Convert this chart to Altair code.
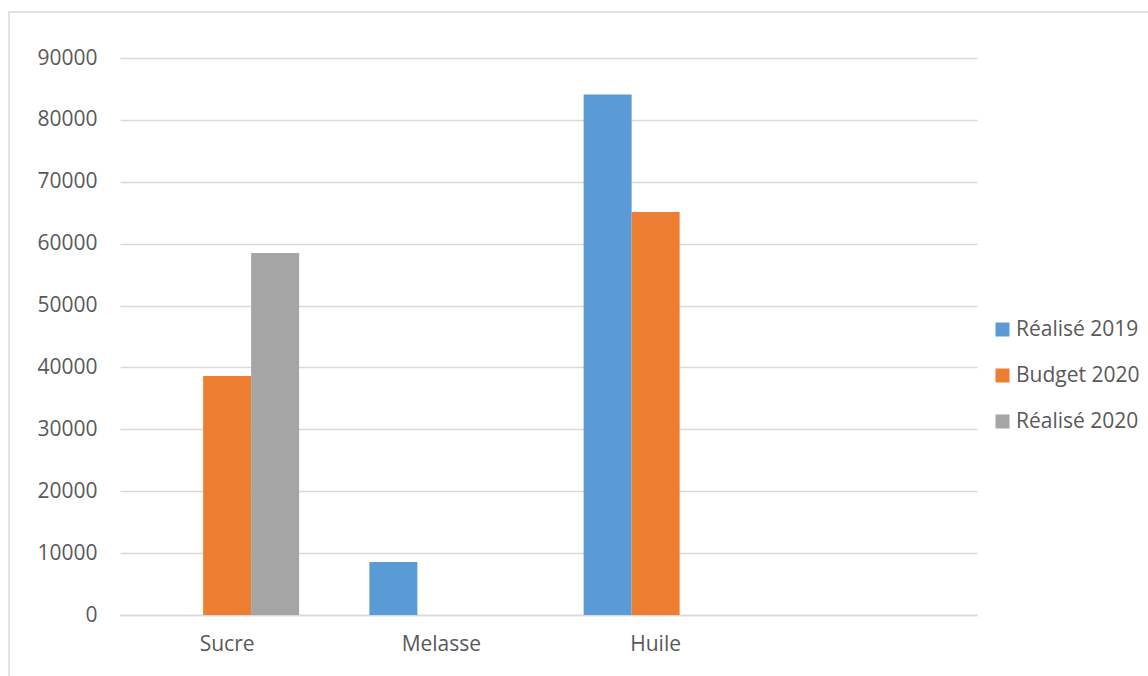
import altair as alt
import pandas as pd

# Products (the fourth slot is an unnamed, empty category)
categories = ["Sucre", "Melasse", "Huile", ""]
series = ["Réalisé 2019", "Budget 2020", "Réalisé 2020"]

realise_2019 = [0, 8560, 84100, 0]
budget_2020 = [38600, 0, 65100, 0]
realise_2020 = [58500, 0, 0, 0]

colors = ["#5B9BD5", "#ED7D31", "#A5A5A5"]
y_ticks = [0, 10000, 20000, 30000, 40000, 50000, 60000, 70000, 80000, 90000]

rows = []
for name, values in zip(series, [realise_2019, budget_2020, realise_2020]):
    for cat, v in zip(categories, values):
        rows.append({"Produit": cat, "Série": name, "Valeur": v})
df = pd.DataFrame(rows)

font = "Open Sans"
text_color = "#595959"
grid_color = "#D9D9D9"
font_size = 21

W, H = 857, 557
PAD_L, PAD_T = 120, 58

bars = alt.Chart(df).mark_bar().encode(
    x=alt.X(
        "Produit:N",
        sort=categories,
        scale=alt.Scale(domain=categories, paddingInner=0.328, paddingOuter=0.164),
        axis=alt.Axis(
            title=None, labelAngle=0, ticks=False,
            domainColor=grid_color, domainWidth=1.5,
            labelFont=font, labelFontSize=font_size, labelColor=text_color,
            labelPadding=18,
        ),
    ),
    xOffset=alt.XOffset(
        "Série:N", sort=series,
        scale=alt.Scale(domain=series, paddingInner=0, paddingOuter=0),
    ),
    y=alt.Y(
        "Valeur:Q",
        scale=alt.Scale(domain=[0, 90000], nice=False),
        axis=alt.Axis(
            title=None, values=y_ticks, format="d", domain=False, ticks=False,
            gridColor=grid_color, gridWidth=1.5,
            labelFont=font, labelFontSize=font_size, labelColor=text_color,
            labelPadding=23,
        ),
    ),
    color=alt.Color(
        "Série:N", sort=series,
        scale=alt.Scale(domain=series, range=colors),
        legend=alt.Legend(
            title=None, orient="none", legendX=872, legendY=261,
            symbolType="square", symbolSize=196, symbolStrokeWidth=0,
            labelFont=font, labelFontSize=font_size, labelColor=text_color,
            rowPadding=24, labelOffset=3, padding=0,
        ),
    ),
)

# Light outer frame around the whole chart
frame = alt.Chart(pd.DataFrame({"k": [0]})).mark_rect(
    fill=None, stroke=grid_color, strokeWidth=1.5
).encode(
    x=alt.value(9 - PAD_L),
    y=alt.value(12 - PAD_T),
    x2=alt.value(1148 - PAD_L + 40),
    y2=alt.value(676 - PAD_T + 40),
)

chart = alt.layer(frame, bars).properties(
    width=W,
    height=H,
    autosize=alt.AutoSizeParams(type="none"),
    padding={"left": PAD_L, "top": PAD_T, "right": 1148 - PAD_L - W, "bottom": 676 - PAD_T - H},
    background="white",
).configure_view(strokeWidth=0)

chart.save("out.html", embed_options={"renderer": "svg", "actions": False})
